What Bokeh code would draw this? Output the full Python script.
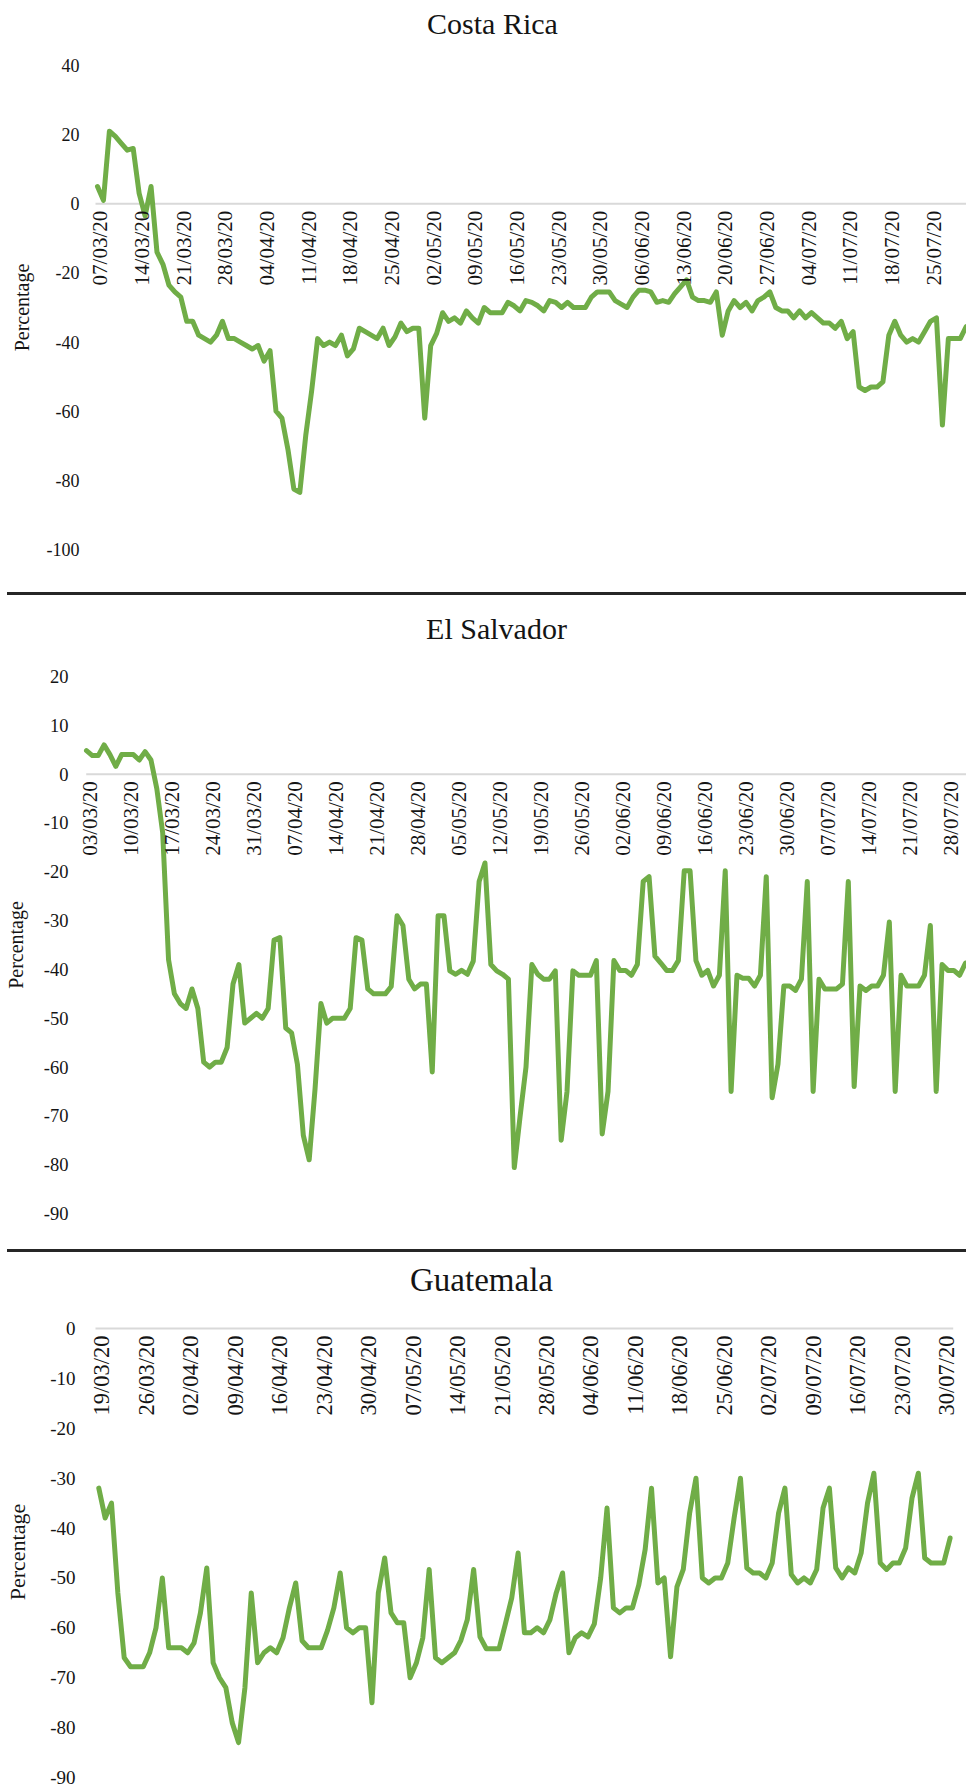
import math
import pandas as pd
from bokeh.plotting import figure
from bokeh.layouts import column
from bokeh.models import Range1d, FixedTicker, ColumnDataSource, Div
from bokeh.core.properties import value
from bokeh.embed import file_html
from bokeh.resources import INLINE

FONT = "Liberation Serif"
GREEN = "#70AD47"
TEXT = "#141414"
ZERO = "#d9d9d9"
SEP = "#262626"

# ---------------- data ----------------
cr_title = "Costa Rica"
cr_start = "2020-03-07"
cr_values = [5, 1, 21, 19.5, 17.5, 15.5, 16, 3, -3.5, 5,
             -14, -17.5, -23.5, -25.5, -27, -34, -34, -38, -39, -40,
             -38, -34, -39, -39, -40, -41, -42, -41, -45.5, -42.5,
             -60, -62, -71, -82.5, -83.5, -67, -54, -39, -41, -40,
             -41, -38, -44, -42, -36, -37, -38, -39, -36, -41,
             -38.5, -34.5, -37, -36, -36, -62, -41, -37.5, -31.5, -34,
             -33, -34.5, -31, -33, -34.5, -30, -31.5, -31.5, -31.5, -28.5,
             -29.5, -31, -28, -28.5, -29.5, -31, -28, -28.5, -30, -28.5,
             -30, -30, -30, -27, -25.5, -25.5, -25.5, -28, -29, -30,
             -27, -25, -25, -25.5, -28.5, -28, -28.5, -26, -24, -22,
             -27, -28, -28, -28.5, -25.5, -38, -31, -28, -30, -28.5,
             -31, -28, -27, -25.5, -30, -31, -31, -33, -31, -33,
             -31.5, -33, -34.5, -34.5, -36, -34, -39, -37, -53, -54,
             -53, -53, -51.5, -38, -34, -38, -40, -39, -40, -37,
             -34, -33, -64, -39, -39, -39, -35.5]
cr_date_labels = ["07/03/20", "14/03/20", "21/03/20", "28/03/20", "04/04/20", "11/04/20",
                  "18/04/20", "25/04/20", "02/05/20", "09/05/20", "16/05/20", "23/05/20",
                  "30/05/20", "06/06/20", "13/06/20", "20/06/20", "27/06/20", "04/07/20",
                  "11/07/20", "18/07/20", "25/07/20"]
cr_yticks = [40, 20, 0, -20, -40, -60, -80, -100]
cr_ytick_labels = ["40", "20", "0", "-20", "-40", "-60", "-80", "-100"]

es_title = "El Salvador"
es_start = "2020-03-03"
es_values = [4.8, 3.8, 3.8, 6, 4, 1.6, 4, 4, 4, 2.9,
             4.6, 2.9, -3, -12, -38, -45, -47, -48, -44, -48,
             -59, -60, -59, -59, -56, -43, -39, -51, -50, -49,
             -50, -48, -34, -33.5, -52, -53, -59.5, -74, -79, -64.5,
             -47, -51, -50, -50, -50, -48, -33.5, -34, -44, -45,
             -45, -45, -43.5, -29, -31, -42, -44, -43, -43, -61,
             -29, -29, -40.3, -41, -40.2, -41, -38.3, -22, -18.2, -39,
             -40.3, -41, -42, -80.6, -70, -60, -39, -41, -42, -42,
             -40.3, -75, -65, -40.3, -41.2, -41.2, -41.2, -38.2, -73.7, -65,
             -38.2, -40.2, -40.2, -41.2, -39, -22, -21, -37.3, -38.7, -40.2,
             -40.2, -38.2, -19.8, -19.8, -38.2, -41.2, -40.2, -43.4, -41.2, -19.8,
             -65, -41.2, -41.8, -41.8, -43.4, -41.2, -21, -66.3, -59.4, -43.4,
             -43.4, -44.3, -42, -22, -65, -42, -44, -44, -44, -43,
             -22, -64, -43.4, -44.3, -43.4, -43.4, -41.2, -30.3, -65, -41.2,
             -43.4, -43.4, -43.4, -41.2, -31, -65, -39, -40.2, -40.2, -41.2,
             -38.7]
es_date_labels = ["03/03/20", "10/03/20", "17/03/20", "24/03/20", "31/03/20", "07/04/20",
                  "14/04/20", "21/04/20", "28/04/20", "05/05/20", "12/05/20", "19/05/20",
                  "26/05/20", "02/06/20", "09/06/20", "16/06/20", "23/06/20", "30/06/20",
                  "07/07/20", "14/07/20", "21/07/20", "28/07/20"]
es_yticks = [20, 10, 0, -10, -20, -30, -40, -50, -60, -70, -80, -90]
es_ytick_labels = ["20", "10", "0", "-10", "-20", "-30", "-40", "-50", "-60", "-70", "-80", "-90"]

gt_title = "Guatemala"
gt_start = "2020-03-19"
gt_values = [-32, -38, -35, -53, -66, -67.8, -67.8, -67.8, -65, -60,
             -50, -64, -64, -64, -65, -63, -57, -48, -67, -70,
             -72, -79, -83, -72, -53, -67, -65, -64, -65, -62,
             -56, -51, -62.6, -64, -64, -64, -60.5, -56, -49, -60,
             -61, -60, -60, -75, -53, -46, -57, -59, -59, -70,
             -67, -62, -48.3, -66, -67, -66, -65, -62.5, -58.4, -48.3,
             -61.8, -64.2, -64.2, -64.2, -59.2, -54, -45, -61, -61, -60,
             -61, -58.4, -53, -49, -65, -62, -61, -61.8, -59.2, -50,
             -36, -56, -57, -56, -56, -51.4, -44.3, -32, -51, -50,
             -65.8, -51.8, -48.3, -37, -30, -50, -51, -50, -50, -47,
             -38, -30, -48, -49, -49, -50, -47, -37, -32, -49.3,
             -51, -50, -51, -48.3, -36, -32, -48, -50, -48, -49,
             -45, -35, -29, -47, -48.3, -47, -47, -44, -34, -29,
             -46, -47, -47, -47, -42]
gt_date_labels = ["19/03/20", "26/03/20", "02/04/20", "09/04/20", "16/04/20", "23/04/20",
                  "30/04/20", "07/05/20", "14/05/20", "21/05/20", "28/05/20", "04/06/20",
                  "11/06/20", "18/06/20", "25/06/20", "02/07/20", "09/07/20", "16/07/20",
                  "23/07/20", "30/07/20"]
gt_yticks = [0, -10, -20, -30, -40, -50, -60, -70, -80, -90]
gt_ytick_labels = ["0", "-10", "-20", "-30", "-40", "-50", "-60", "-70", "-80", "-90"]

y_axis_title = "Percentage"
WIDTH = 966
FRAME_LEFT = 80   # shared left border (bokeh aligns frames inside a column)


def bare(fig):
    fig.outline_line_color = None
    fig.xgrid.grid_line_color = None
    fig.ygrid.grid_line_color = None
    fig.background_fill_color = "white"
    fig.border_fill_color = "white"
    return fig


def title_fig(text, height, cx, cy_from_top, size):
    f = bare(figure(width=WIDTH, height=height, output_backend="svg", toolbar_location=None,
                    x_range=Range1d(FRAME_LEFT, WIDTH), y_range=Range1d(0, height),
                    x_axis_location=None, y_axis_location=None,
                    min_border_left=FRAME_LEFT, min_border_right=0,
                    min_border_top=0, min_border_bottom=0))
    f.text(x=[cx], y=[height - cy_from_top], text=[text], text_align="center",
           text_baseline="middle", text_font=value(FONT), text_font_size=f"{size}px",
           text_color=TEXT)
    return f


def panel(start, values, date_labels, yticks, ytick_labels, y_lo, y_hi,
          height, b_top, b_bottom, pad_lo, pad_hi, zero_lo, zero_hi,
          tick_size, tick_standoff, alabel_size, alabel_standoff, date_size):
    dates = pd.date_range(start, periods=len(values), freq="D")
    x0 = (dates[0] - pd.Timedelta(days=pad_lo)).to_pydatetime()
    x1 = (dates[-1] + pd.Timedelta(days=pad_hi)).to_pydatetime()
    p = bare(figure(width=WIDTH, height=height, output_backend="svg", toolbar_location=None,
                    x_range=Range1d(x0, x1), y_range=Range1d(y_lo, y_hi),
                    x_axis_location=None, y_axis_location="left",
                    min_border_top=b_top, min_border_bottom=b_bottom,
                    min_border_left=FRAME_LEFT, min_border_right=0))

    ax = p.yaxis[0]
    ax.ticker = FixedTicker(ticks=yticks)
    ax.major_label_overrides = {t: s for t, s in zip(yticks, ytick_labels)}
    ax.axis_line_color = None
    ax.major_tick_line_color = None
    ax.minor_tick_line_color = None
    ax.major_tick_out = 0
    ax.major_tick_in = 0
    ax.major_label_standoff = tick_standoff
    ax.major_label_text_font = FONT
    ax.major_label_text_font_size = f"{tick_size}px"
    ax.major_label_text_color = TEXT
    ax.axis_label = y_axis_title
    ax.axis_label_text_font = FONT
    ax.axis_label_text_font_size = f"{alabel_size}px"
    ax.axis_label_text_font_style = "normal"
    ax.axis_label_text_color = TEXT
    ax.axis_label_standoff = alabel_standoff

    # zero (category) axis line
    z0 = (dates[0] - pd.Timedelta(days=zero_lo)).to_pydatetime()
    z1 = (dates[-1] + pd.Timedelta(days=zero_hi)).to_pydatetime()
    p.line(x=[z0, z1], y=[0, 0], line_color=ZERO, line_width=2)

    src = ColumnDataSource(dict(x=list(dates), y=values))
    p.line("x", "y", source=src, line_color=GREEN, line_width=5,
           line_join="round", line_cap="round")

    tick_dates = list(pd.to_datetime(date_labels, format="%d/%m/%y"))
    lsrc = ColumnDataSource(dict(x=tick_dates, y=[0] * len(tick_dates), t=date_labels))
    p.text("x", "y", text="t", source=lsrc, angle=math.pi / 2,
           text_align="right", text_baseline="middle", x_offset=3, y_offset=7,
           text_font=value(FONT), text_font_size=f"{date_size}px", text_color=TEXT)
    return p


def separator():
    return Div(text="", width=WIDTH - 7, height=3, margin=(0, 0, 0, 7),
               styles={"background-color": SEP})


t1 = title_fig(cr_title, 45, 492, 22.5, 30)
p1 = panel(cr_start, cr_values, cr_date_labels, cr_yticks, cr_ytick_labels,
           -100, 40, height=547, b_top=20, b_bottom=43,
           pad_lo=2.857, pad_hi=0.05, zero_lo=0.336, zero_hi=0.05,
           tick_size=18, tick_standoff=1, alabel_size=20, alabel_standoff=11, date_size=21)
t2 = title_fig(es_title, 55, 496, 33, 30)
p2 = panel(es_start, es_values, es_date_labels, es_yticks, es_ytick_labels,
           -90, 20, height=599, b_top=26, b_bottom=36,
           pad_lo=1.024, pad_hi=0.17, zero_lo=0.05, zero_hi=0.17,
           tick_size=18.5, tick_standoff=12, alabel_size=20, alabel_standoff=14, date_size=21)
t3 = title_fig(gt_title, 53, 481, 27, 33)
p3 = panel(gt_start, gt_values, gt_date_labels, gt_yticks, gt_ytick_labels,
           -90, 0.4, height=485, b_top=21, b_bottom=13,
           pad_lo=2.88, pad_hi=2.58, zero_lo=0.52, zero_hi=0.49,
           tick_size=19, tick_standoff=5, alabel_size=22, alabel_standoff=17, date_size=22.5)

layout = column(t1, p1, separator(), t2, p2, separator(), t3, p3, spacing=0)
open("out.html", "w").write(file_html(layout, INLINE))
